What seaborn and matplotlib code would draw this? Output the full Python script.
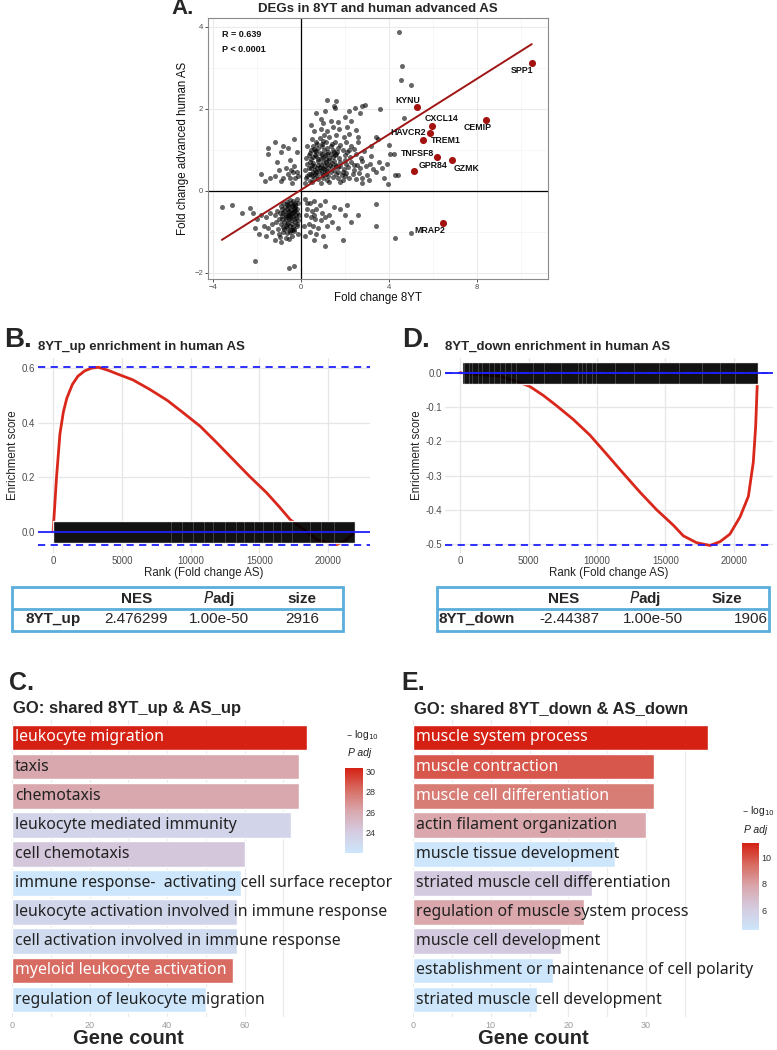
import matplotlib
matplotlib.use("Agg")
import matplotlib.pyplot as plt
import matplotlib.colors as mcolors
from matplotlib.cm import ScalarMappable
from matplotlib.patches import Rectangle
import numpy as np
import pandas as pd
import seaborn as sns

# ---------------- A: fold change scatter ----------------
up_up = [(0.25,0.3),(0.4,0.25),(0.6,0.32),(0.8,0.28),(1.0,0.3),(1.2,0.27),(1.45,0.33),(1.7,0.3),(1.9,0.26),
         (2.2,0.31),(2.5,0.28),(2.8,0.3),(3.1,0.27),(0.35,0.4),(0.55,0.45),(0.75,0.38),(0.95,0.42),(1.15,0.4),
         (1.35,0.45),(1.6,0.41),(1.85,0.38),(2.05,0.44),(2.35,0.4),(2.65,0.43),(3.0,0.39),(3.4,0.45),
         (0.2,0.5),(0.45,0.55),(0.65,0.5),(0.85,0.58),(1.05,0.52),(1.25,0.56),(1.5,0.5),(1.7,0.57),(1.95,0.52),
         (2.15,0.58),(2.4,0.5),(2.7,0.55),(2.95,0.6),(3.3,0.52),(3.7,0.55),(0.3,0.65),(0.55,0.68),(0.78,0.63),
         (1.0,0.7),(1.2,0.65),(1.4,0.68),(1.62,0.62),(1.8,0.7),(2.05,0.66),(2.3,0.7),(2.55,0.64),(2.8,0.72),
         (3.15,0.66),(3.55,0.7),(0.25,0.8),(0.48,0.78),(0.7,0.85),(0.9,0.8),(1.1,0.88),(1.3,0.8),(1.55,0.86),
         (1.75,0.8),(2.0,0.88),(2.25,0.82),(2.5,0.9),(2.75,0.8),(3.2,0.85),(0.4,0.92),(0.62,0.97),(0.85,0.93),
         (1.05,1.0),(1.25,0.95),(1.45,1.0),(1.65,0.94),(1.9,1.0),(2.1,0.95),(2.4,1.02),(2.85,0.98),
         (0.3,1.08),(0.55,1.1),(0.75,1.15),(0.95,1.08),(1.15,1.18),(1.35,1.1),(1.55,1.2),(1.8,1.12),(2.05,1.2),
         (2.3,1.1),(2.6,1.18),(3.5,1.25),(0.5,1.25),(0.85,1.28),(1.05,1.35),(1.3,1.3),(1.6,1.35),(1.95,1.3),
         (2.2,1.38),(2.6,1.32),(3.4,1.3),(0.6,1.45),(0.9,1.5),(1.2,1.45),(1.45,1.55),(1.75,1.5),(2.1,1.55),
         (2.5,1.48),(0.45,1.6),(1.0,1.65),(1.35,1.7),(1.7,1.68),(2.3,1.7),(2.0,1.8),(0.7,1.9),(1.2,2.2),
         (1.5,2.07),(1.55,2.02),(1.6,2.18),(2.45,2.02),(2.8,2.07),(3.6,2.0),(2.2,1.95),(1.1,1.95),(0.9,1.75),
         (2.7,1.9),(0.2,0.2),(0.5,0.22),(0.9,0.2),(1.3,0.21),(1.8,0.22),(2.8,0.2),(3.95,0.17),(3.8,0.3),
         (4.3,0.38),(4.4,0.38),(3.9,0.65),(4.05,0.9),(4.0,1.12),(3.2,1.1),(0.3,0.35),(0.5,0.35),(0.7,0.45),
         (0.9,0.5),(1.1,0.6),(0.4,0.7),(0.6,0.6),(0.8,0.72),(1.0,0.55),(1.2,0.48),(1.4,0.58),(1.3,0.75),
         (1.5,0.72),(0.65,0.88),(0.95,0.9),(1.15,0.78),(1.35,0.9),(1.6,0.9),(1.8,0.6),(2.0,0.75),(0.35,0.55),
         (0.6,1.02),(0.8,1.05),(1.2,1.05),(1.4,1.15),(1.7,1.05),(2.2,1.0),(0.7,1.2),(1.0,1.22),(1.9,0.45),
         (0.45,0.42),(0.62,0.4),(0.82,0.48),(1.02,0.38),(1.22,0.36),(0.5,0.62),(0.72,0.55),(0.92,0.62),
         (1.12,0.7),(1.32,0.62),(0.55,0.82),(0.78,0.78),(1.0,0.82),(1.2,0.9),(1.45,0.82),(0.45,1.0),(0.7,0.98),
         (0.95,1.15),(1.1,0.45),(1.6,0.6),(1.7,0.45),(1.5,0.95),(0.35,0.88),(2.4,0.62),(2.0,0.35)]
down_down = [(-0.2,-0.2),(-0.35,-0.25),(-0.5,-0.22),(-0.65,-0.28),(-0.8,-0.3),(-0.25,-0.35),(-0.42,-0.38),
             (-0.58,-0.34),(-0.72,-0.4),(-0.9,-0.38),(-0.18,-0.45),(-0.3,-0.5),(-0.45,-0.48),(-0.6,-0.52),
             (-0.78,-0.5),(-0.95,-0.55),(-1.1,-0.5),(-0.22,-0.6),(-0.38,-0.62),(-0.52,-0.6),(-0.68,-0.65),
             (-0.85,-0.62),(-1.0,-0.68),(-0.15,-0.72),(-0.28,-0.75),(-0.45,-0.72),(-0.6,-0.78),(-0.75,-0.75),
             (-0.92,-0.8),(-1.15,-0.75),(-0.2,-0.85),(-0.35,-0.88),(-0.5,-0.85),(-0.65,-0.9),(-0.82,-0.88),
             (-1.05,-0.92),(-0.3,-0.98),(-0.48,-1.0),(-0.62,-1.02),(-0.8,-1.0),(-1.0,-1.05),(-1.3,-1.0),
             (-0.4,-1.1),(-0.7,-1.15),(-0.95,-1.12),(-0.55,-1.18),(-0.15,-1.05),(-0.25,-0.3),(-0.4,-0.55),
             (-0.55,-0.4),(-0.7,-0.58),(-0.33,-0.68),(-0.5,-0.95),(-0.2,-0.55),(-0.65,-0.45),(-1.2,-0.6),
             (-1.4,-0.55),(-1.6,-0.65),(-1.8,-0.6),(-1.3,-0.8),(-1.5,-0.9),(-1.7,-0.85),(-2.0,-0.7),(-2.2,-0.55),
             (-2.3,-0.42),(-2.1,-0.9),(-1.9,-1.05),(-1.6,-1.1),(-1.2,-1.2),(-0.9,-1.25),(-2.7,-0.55),
             (-3.15,-0.35),(-3.6,-0.4),(-2.1,-1.72),(-0.55,-1.88),(-0.3,-1.83),(-0.45,-0.3),(-0.3,-0.42),
             (-0.12,-0.3),(-0.1,-0.6),(-0.85,-0.7),(-0.75,-0.92),(-0.28,-0.4),(-0.36,-0.52),(-0.48,-0.65),
             (-0.56,-0.7),(-0.24,-0.66),(-0.4,-0.8),(-0.58,-0.58),(-0.62,-0.82),(-0.3,-0.92),(-0.45,-0.6),
             (-0.7,-0.68),(-0.18,-0.8),(-0.52,-0.5),(-0.35,-0.35),(-0.62,-0.33),(-0.8,-0.55),(-0.88,-0.45),
             (-0.42,-0.95),(-0.7,-0.85),(-0.26,-0.48)]
down_up = [(-1.2,1.18),(-0.8,1.1),(-0.6,1.05),(-0.3,1.25),(-0.2,0.95),(-1.5,1.05),(-1.5,0.9),(-0.9,0.95),
           (-0.5,0.75),(-0.3,0.6),(-0.2,0.45),(-0.45,0.5),(-0.7,0.55),(-1.0,0.5),(-1.2,0.35),(-1.4,0.3),
           (-1.65,0.25),(-0.8,0.3),(-0.5,0.3),(-0.25,0.3),(-0.35,0.45),(-0.6,0.4),(-0.15,0.35),(-1.1,0.7),
           (-1.8,0.4),(-0.4,0.2),(-0.9,0.25)]
up_down = [(0.2,-0.2),(0.4,-0.3),(0.6,-0.25),(0.85,-0.35),(0.3,-0.45),(0.5,-0.5),(0.7,-0.45),(0.95,-0.55),
           (0.25,-0.6),(0.45,-0.65),(0.65,-0.7),(0.9,-0.72),(1.1,-0.65),(0.35,-0.8),(0.55,-0.85),(0.8,-0.9),
           (1.2,-0.85),(0.4,-1.0),(0.7,-1.05),(1.0,-1.1),(1.3,-0.6),(1.5,-0.4),(1.4,-0.75),(1.7,-0.9),
           (1.8,-0.45),(2.1,-0.35),(2.0,-0.6),(2.3,-0.75),(2.6,-0.6),(1.9,-1.2),(1.1,-1.35),(0.6,-1.2),
           (0.2,-1.1),(3.4,-0.87),(3.4,-0.32),(1.1,-0.25),(0.3,-0.3),(0.6,-0.58),(0.15,-0.85)]
outliers = [(4.45,3.88),(4.6,3.05),(4.55,2.7),(5.0,2.58),(4.7,1.78),(4.3,-1.15),(5.0,-1.03),(4.25,0.9),(2.9,2.08)]

hl_genes = ["SPP1", "KYNU", "CXCL14", "HAVCR2", "TREM1", "CEMIP", "TNFSF8", "GZMK", "GPR84", "MRAP2"]
hl_x = [10.51, 5.29, 5.98, 5.86, 5.58, 8.44, 6.2, 6.87, 5.17, 6.48]
hl_y = [3.11, 2.03, 1.57, 1.41, 1.23, 1.72, 0.82, 0.74, 0.49, -0.78]
hl_lab_x = [10.08, 4.87, 6.39, 4.87, 6.59, 8.06, 5.29, 7.53, 6.0, 5.86]
hl_lab_y = [2.92, 2.2, 1.75, 1.41, 1.23, 1.55, 0.92, 0.55, 0.62, -0.97]
fit_slope, fit_intercept = 0.338, 0.02
stat_lines = ["R = 0.639", "P < 0.0001"]

# ---------------- B / D: GSEA running scores ----------------
b_rank = [0, 250, 500, 750, 1000, 1400, 1800, 2300, 2800, 3300, 4000, 4600, 5800, 7000, 8300, 9500, 10700,
          11900, 13100, 14300, 15500, 16400, 17250, 18200, 19200, 20000, 20650, 21300, 21950]
b_es = [0, 0.2, 0.36, 0.44, 0.49, 0.54, 0.57, 0.59, 0.6, 0.603, 0.592, 0.58, 0.557, 0.523, 0.482, 0.435, 0.387,
        0.327, 0.265, 0.203, 0.145, 0.095, 0.045, 0.01, -0.028, -0.04, -0.046, -0.03, 0.0]
b_hit_span = (0, 21950)
b_gaps = [8600, 9400, 10200, 11000, 11600, 12500, 13300, 13900, 14600, 15300, 16000, 16600, 17400, 18700,
          19500, 20400]

d_rank = [0, 120, 1200, 2900, 4140, 5100, 6080, 7050, 8270, 9490, 10700, 11920, 13140, 14350, 15570, 16300,
          17270, 18250, 18980, 19700, 20440, 21050, 21410, 21580, 21730]
d_es = [0, 0, -0.005, -0.01, -0.025, -0.04, -0.066, -0.096, -0.136, -0.182, -0.237, -0.293, -0.348, -0.399,
        -0.444, -0.475, -0.495, -0.503, -0.492, -0.47, -0.42, -0.36, -0.26, -0.157, 0]
d_hit_span = (120, 21730)
d_gaps = [300, 650, 900, 1300, 1600, 2100, 2500, 2900, 3300, 3700, 4100, 5300, 6100, 7400, 8600, 8900, 9200,
          9600, 9900, 11300, 12700, 14500, 16000, 17700, 19000, 20100]

b_table_header = ["", "NES", "Padj", "size"]
b_table_row = ["8YT_up", "2.476299", "1.00e-50", "2916"]
d_table_header = ["", "NES", "Padj", "Size"]
d_table_row = ["8YT_down", "-2.44387", "1.00e-50", "1906"]

# ---------------- C / E: GO terms ----------------
c_terms = ["leukocyte migration", "taxis", "chemotaxis", "leukocyte mediated immunity", "cell chemotaxis",
           "immune response-  activating cell surface receptor", "leukocyte activation involved in immune response",
           "cell activation involved in immune response", "myeloid leukocyte activation",
           "regulation of leukocyte migration"]
c_counts = [76, 74, 74, 72, 60, 59, 58, 58, 57, 50]
c_logp = [30.3, 26.1, 26.1, 23.4, 24.3, 22.0, 23.3, 22.9, 28.2, 22.0]

e_terms = ["muscle system process", "muscle contraction", "muscle cell differentiation",
           "actin filament organization", "muscle tissue development", "striated muscle cell differentiation",
           "regulation of muscle system process", "muscle cell development",
           "establishment or maintenance of cell polarity", "striated muscle cell development"]
e_counts = [38, 31, 31, 30, 26, 23, 22, 19, 18, 16]
e_logp = [11.1, 9.9, 9.0, 7.8, 4.5, 6.2, 7.8, 6.2, 4.5, 4.5]

# ---------------- figure ----------------
sns.set_theme(style="white")
plt.rcParams['font.family'] = ['Liberation Sans', 'DejaVu Sans']
W, H = 777, 1050
fig = plt.figure(figsize=(W / 100, H / 100), dpi=100)


def px_axes(l, t, r, b):
    return fig.add_axes([l / W, 1 - b / H, (r - l) / W, (b - t) / H])


def fig_text(x, y, s, **kw):
    fig.text(x / W, 1 - y / H, s, **kw)


# ---- A ----
axA = px_axes(208, 18, 548, 279)
pts = up_up + down_down + down_up + up_down + outliers
dfA = pd.DataFrame(pts, columns=["fc_8yt", "fc_as"])
axA.grid(True, which="major", color="#ebebeb", lw=0.8)
axA.grid(True, which="minor", color="#f4f4f4", lw=0.5)
axA.axhline(0, color="black", lw=0.9, zorder=1)
axA.axvline(0, color="black", lw=0.9, zorder=1)
sns.scatterplot(data=dfA, x="fc_8yt", y="fc_as", color="black", alpha=0.6, s=13, linewidth=0, ax=axA, zorder=2)
all_x = np.concatenate([dfA["fc_8yt"].values, hl_x])
fx = np.array([all_x.min(), all_x.max()])
axA.plot(fx, fit_intercept + fit_slope * fx, color="#a01515", lw=1.4, zorder=3)
sns.scatterplot(x=hl_x, y=hl_y, color="#a3120f", s=26, linewidth=0, ax=axA, zorder=4)
for g, tx, ty in zip(hl_genes, hl_lab_x, hl_lab_y):
    axA.text(tx, ty, g, ha="center", va="center", fontsize=6.3, fontweight="bold", color="#111111", zorder=5)
for i, s in enumerate(stat_lines):
    axA.text(-3.57, 3.80 - 0.36 * i, s, ha="left", va="center", fontsize=6.5, fontweight="bold", color="#111111")
axA.set_xlim(-4.23, 11.25)
axA.set_ylim(-2.15, 4.21)
axA.set_xticks([-4, 0, 4, 8])
axA.set_xticks([-2, 2, 6, 10], minor=True)
axA.set_yticks([-2, 0, 2, 4])
axA.set_yticks([-1, 1, 3], minor=True)
axA.tick_params(which="major", length=2, width=0.6, color="#333333", labelsize=5.5, labelcolor="#4d4d4d", pad=1.5,
                bottom=True, left=True)
axA.tick_params(which="minor", length=0)
for sp in axA.spines.values():
    sp.set_color("#8a8a8a")
    sp.set_linewidth(0.8)
axA.set_xlabel("Fold change 8YT", fontsize=8.3, labelpad=1, color="#111111")
axA.set_ylabel("Fold change advanced human AS", fontsize=8.3, labelpad=4, color="#111111")
axA.set_title("DEGs in 8YT and human advanced AS", fontsize=9.5, fontweight="bold", pad=4)
fig_text(171, 9, "A.", fontsize=16, fontweight="bold", ha="left", va="center")


# ---- B / D ----
def gsea_panel(ax, rank, es, span, gaps, half, xlim, ylim, yticks):
    ax.grid(True, color="#e6e6e6", lw=0.9)
    sns.lineplot(x=rank, y=es, ax=ax, color="#d9271b", lw=2, estimator=None, sort=False, zorder=2)
    ax.broken_barh([(span[0], span[1] - span[0])], (-half, 2 * half), facecolor="black", alpha=0.93, zorder=3)
    ax.vlines(gaps, -half, half, color="white", lw=0.4, alpha=0.35, zorder=3)
    ax.axhline(0, color="#1f1fff", lw=1.3, zorder=4)
    ax.axhline(max(es), color="#1f1fff", lw=1.3, ls=(0, (4, 3)), zorder=4)
    ax.axhline(min(es), color="#1f1fff", lw=1.3, ls=(0, (4, 3)), zorder=4)
    ax.set_xlim(*xlim)
    ax.set_ylim(*ylim)
    ax.set_xticks([0, 5000, 10000, 15000, 20000])
    ax.set_yticks(yticks)
    ax.set_yticklabels([f"{v:.1f}" for v in yticks])
    ax.tick_params(length=0, labelsize=7, labelcolor="#4d4d4d", pad=2)
    sns.despine(ax=ax, left=True, bottom=True)
    ax.set_xlabel("Rank (Fold change AS)", fontsize=8.3, labelpad=1, color="#222222")
    ax.set_ylabel("Enrichment score", fontsize=8.3, labelpad=2, color="#222222")


axB = px_axes(38, 358, 370, 553)
gsea_panel(axB, b_rank, b_es, b_hit_span, b_gaps, 0.04, (-1097, 23047), (-0.077, 0.637), [0.0, 0.2, 0.4, 0.6])
fig_text(38, 347, "8YT_up enrichment in human AS", fontsize=9.5, fontweight="bold", ha="left", va="center")
fig_text(4, 340, "B.", fontsize=20, fontweight="bold", ha="left", va="center")

axD = px_axes(445, 358, 773, 553)
gsea_panel(axD, d_rank, d_es, d_hit_span, d_gaps, 0.032, (-1095, 22847), (-0.525, 0.043),
           [-0.5, -0.4, -0.3, -0.2, -0.1, 0.0])
fig_text(445, 347, "8YT_down enrichment in human AS", fontsize=9.5, fontweight="bold", ha="left", va="center")
fig_text(402, 340, "D.", fontsize=20, fontweight="bold", ha="left", va="center")


# ---- tables ----
def draw_table(ax, header, row, hx, rx, raligns):
    ax.set_axis_off()
    ax.set_xlim(0, 1)
    ax.set_ylim(0, 1)
    ax.add_patch(Rectangle((0, 0), 1, 1, fill=False, edgecolor="#5aaedb", lw=2, transform=ax.transAxes,
                           clip_on=False))
    ax.axhline(0.5, color="#5aaedb", lw=2)
    for s, x in zip(header, hx):
        if s == "Padj":
            ax.text(x, 0.73, r"$\bf{\it{P}}$adj", ha="center", va="center", fontsize=11, fontweight="bold")
        elif s:
            ax.text(x, 0.73, s, ha="center", va="center", fontsize=11, fontweight="bold")
    for j, (s, x, a) in enumerate(zip(row, rx, raligns)):
        ax.text(x, 0.27, s, ha=a, va="center", fontsize=11, fontweight="bold" if j == 0 else "normal")


tabB = px_axes(12, 587, 343, 631)
draw_table(tabB, b_table_header, b_table_row, [0, 0.375, 0.625, 0.876], [0.124, 0.375, 0.625, 0.876],
           ["center", "center", "center", "center"])
tabD = px_axes(437, 587, 769, 631)
draw_table(tabD, d_table_header, d_table_row, [0, 0.38, 0.627, 0.873], [0.006, 0.40, 0.65, 0.997],
           ["left", "center", "center", "right"])

# ---- C / E ----
cmap = mcolors.LinearSegmentedColormap.from_list(
    "padj", ["#cde6fb", "#d4cbe0", "#d9a7ad", "#d86c62", "#d42113"])


def go_panel(ax, cax, terms, counts, logp, xlim, xticks, minor, cticks):
    norm = mcolors.Normalize(vmin=min(logp), vmax=max(logp))
    pal = {t: cmap(norm(v)) for t, v in zip(terms, logp)}
    df = pd.DataFrame({"term": terms, "count": counts})
    ax.grid(True, which="both", color="#ebebeb", lw=0.9)
    ax.set_axisbelow(True)
    sns.barplot(data=df, x="count", y="term", hue="term", palette=pal, width=0.88, saturation=1,
                legend=False, ax=ax)
    for i, (t, v) in enumerate(zip(terms, logp)):
        ax.annotate(t, (0, i), xytext=(2, 0), textcoords="offset points", ha="left", va="center",
                    fontsize=11.4, family=["Noto Sans", "DejaVu Sans"],
                    color="white" if norm(v) > 0.6 else "#222222", annotation_clip=False)
    ax.set_xlim(*xlim)
    ax.set_ylim(9.6, -0.6)
    ax.set_xticks(xticks)
    ax.set_xticks(minor, minor=True)
    ax.set_yticks(range(len(terms)))
    ax.set_yticklabels([])
    ax.tick_params(which="both", length=0, labelsize=6.5, labelcolor="#9a9a9a", pad=3)
    ax.set_xlabel("")
    ax.set_ylabel("")
    sns.despine(ax=ax, left=True, bottom=True)
    sm = ScalarMappable(norm=norm, cmap=cmap)
    cb = fig.colorbar(sm, cax=cax)
    cb.outline.set_visible(False)
    cb.set_ticks(cticks)
    cax.tick_params(length=3, width=0.6, color="white", direction="in", labelsize=6.5, labelcolor="#333333",
                    pad=2)


axC = px_axes(0, 720, 322, 1017)
caxC = px_axes(345, 768, 363, 853)
go_panel(axC, caxC, c_terms, c_counts, c_logp, (-3.1, 80), [0, 20, 40, 60], [10, 30, 50, 70], [24, 26, 28, 30])
fig_text(13, 709, "GO: shared 8YT_up & AS_up", fontsize=12, fontweight="bold", ha="left", va="center")
fig_text(9, 683, "C.", fontsize=18, fontweight="bold", ha="left", va="center")
fig_text(128, 1039, "Gene count", fontsize=14.5, fontweight="bold", ha="center", va="center")
fig_text(346, 735, "– log$_{10}$", fontsize=7.5, ha="left", va="center", color="#222222")
fig_text(348, 753, "P adj", fontsize=7.5, style="italic", ha="left", va="center", color="#222222")

axE = px_axes(398, 720, 723, 1017)
caxE = px_axes(742, 843, 759, 930)
go_panel(axE, caxE, e_terms, e_counts, e_logp, (-1.93, 39.9), [0, 10, 20, 30], [5, 15, 25, 35], [6, 8, 10])
fig_text(414, 709, "GO: shared 8YT_down & AS_down", fontsize=12, fontweight="bold", ha="left", va="center")
fig_text(401, 683, "E.", fontsize=18, fontweight="bold", ha="left", va="center")
fig_text(533, 1039, "Gene count", fontsize=14.5, fontweight="bold", ha="center", va="center")
fig_text(742, 811, "– log$_{10}$", fontsize=7.5, ha="left", va="center", color="#222222")
fig_text(744, 830, "P adj", fontsize=7.5, style="italic", ha="left", va="center", color="#222222")

fig.savefig("out.png", dpi=100)
